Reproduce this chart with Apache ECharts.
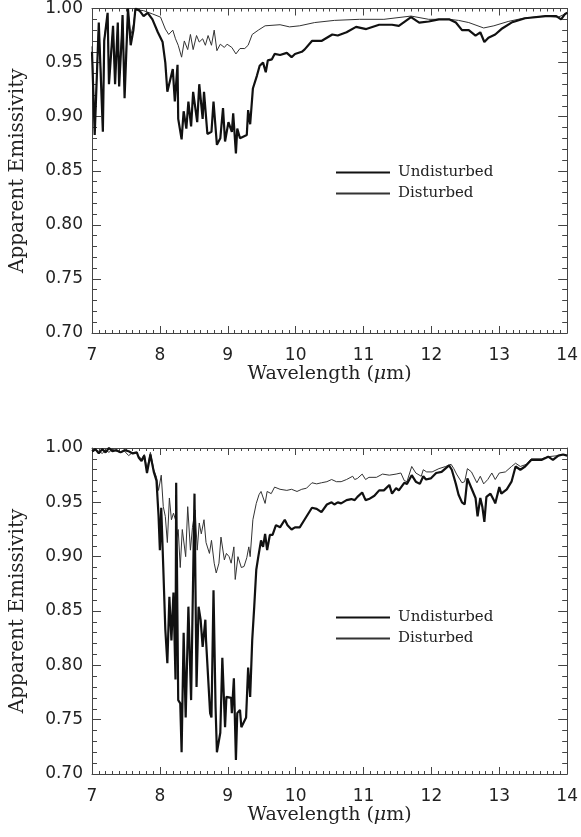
<!DOCTYPE html>
<html>
<head>
<meta charset="utf-8">
<script src="https://cdn.jsdelivr.net/npm/echarts@6/dist/echarts.min.js"></script>
<style>
html,body{margin:0;padding:0;background:#fff;}
#c{width:581px;height:837px;}
</style>
</head>
<body>
<div id="c"></div>
<script>
// ---------- DATA ----------
const xTicks = [7, 8, 9, 10, 11, 12, 13, 14];
const yTicks = [0.70, 0.75, 0.80, 0.85, 0.90, 0.95, 1.00];
const seriesNames = ['Undisturbed', 'Disturbed'];

// Top panel – undisturbed
const topUndW = [7.00,7.04,7.10,7.16,7.18,7.23,7.25,7.31,7.34,7.38,7.40,7.44,7.45,7.48,7.53,7.54,7.57,7.61,7.64,7.70,7.76,7.82,7.89,7.97,8.04,8.08,8.11,8.19,8.22,8.26,8.27,8.32,8.35,8.39,8.42,8.46,8.49,8.55,8.58,8.63,8.65,8.70,8.76,8.79,8.84,8.89,8.93,8.96,9.01,9.06,9.08,9.12,9.14,9.18,9.28,9.30,9.33,9.37,9.43,9.47,9.52,9.56,9.59,9.65,9.69,9.77,9.87,9.94,9.99,10.09,10.13,10.24,10.38,10.54,10.62,10.75,10.89,11.04,11.23,11.42,11.52,11.70,11.82,11.96,12.11,12.26,12.36,12.45,12.55,12.65,12.72,12.78,12.84,12.94,13.03,13.18,13.38,13.68,13.84,13.91,13.97,14.00];
const topUndE = [0.960,0.883,0.987,0.886,0.970,0.996,0.930,0.984,0.930,0.987,0.928,0.976,0.994,0.917,1.000,0.992,0.966,0.980,1.000,0.998,0.993,0.996,0.990,0.978,0.969,0.950,0.923,0.944,0.914,0.948,0.898,0.879,0.905,0.889,0.914,0.891,0.923,0.895,0.930,0.898,0.923,0.884,0.886,0.914,0.874,0.880,0.908,0.877,0.895,0.886,0.903,0.866,0.889,0.880,0.883,0.906,0.893,0.926,0.938,0.947,0.950,0.941,0.952,0.953,0.958,0.957,0.959,0.955,0.958,0.960,0.962,0.970,0.970,0.976,0.975,0.978,0.983,0.981,0.985,0.985,0.984,0.992,0.987,0.988,0.990,0.990,0.987,0.980,0.980,0.975,0.978,0.969,0.973,0.976,0.981,0.987,0.991,0.993,0.993,0.990,0.995,0.996];

// Top panel – disturbed
const topDisW = [7.00,7.04,7.10,7.16,7.18,7.23,7.25,7.31,7.34,7.38,7.40,7.44,7.45,7.48,7.53,7.57,7.61,7.64,7.76,7.89,8.01,8.08,8.13,8.19,8.23,8.27,8.32,8.36,8.41,8.45,8.49,8.54,8.58,8.63,8.67,8.71,8.76,8.80,8.84,8.89,8.95,8.99,9.06,9.12,9.18,9.25,9.30,9.36,9.45,9.55,9.77,9.91,10.06,10.28,10.57,10.94,11.30,11.70,11.96,12.26,12.40,12.55,12.77,12.92,13.13,13.35,13.68,13.87,13.97,14.00];
const topDisE = [0.965,0.890,0.985,0.895,0.972,0.995,0.935,0.982,0.935,0.985,0.932,0.978,0.993,0.925,0.998,0.975,0.985,0.999,0.998,0.995,0.992,0.981,0.976,0.980,0.972,0.966,0.955,0.970,0.962,0.976,0.962,0.975,0.969,0.972,0.966,0.975,0.966,0.980,0.961,0.967,0.964,0.967,0.964,0.958,0.963,0.963,0.966,0.976,0.980,0.984,0.985,0.983,0.984,0.987,0.989,0.990,0.990,0.993,0.990,0.990,0.989,0.987,0.982,0.984,0.988,0.991,0.993,0.992,0.995,0.996];

// Bottom panel – undisturbed
const botUndW = [7.00,7.05,7.10,7.15,7.20,7.25,7.30,7.36,7.42,7.48,7.54,7.60,7.66,7.69,7.73,7.77,7.81,7.86,7.91,7.95,7.98,8.00,8.02,8.05,8.08,8.11,8.14,8.17,8.20,8.23,8.24,8.27,8.30,8.32,8.35,8.38,8.42,8.46,8.51,8.54,8.57,8.60,8.63,8.67,8.68,8.74,8.76,8.79,8.82,8.84,8.89,8.92,8.96,8.98,9.05,9.06,9.09,9.12,9.14,9.18,9.20,9.27,9.30,9.33,9.36,9.39,9.42,9.45,9.49,9.52,9.55,9.58,9.62,9.66,9.71,9.77,9.84,9.88,9.94,9.99,10.06,10.13,10.24,10.31,10.38,10.46,10.53,10.57,10.62,10.67,10.75,10.82,10.87,10.91,10.98,11.03,11.08,11.16,11.23,11.30,11.38,11.42,11.48,11.52,11.60,11.64,11.71,11.77,11.83,11.88,11.92,11.99,12.07,12.15,12.26,12.30,12.36,12.40,12.45,12.49,12.53,12.59,12.65,12.68,12.72,12.75,12.78,12.81,12.87,12.92,12.94,13.00,13.03,13.11,13.18,13.24,13.31,13.38,13.47,13.54,13.62,13.72,13.79,13.87,13.94,14.00];
const botUndE = [0.997,0.999,0.995,0.999,0.996,1.000,0.997,0.998,0.996,0.998,0.997,0.995,0.996,0.991,0.988,0.993,0.977,0.994,0.978,0.970,0.938,0.906,0.945,0.890,0.833,0.802,0.863,0.823,0.867,0.787,0.968,0.768,0.765,0.720,0.830,0.752,0.854,0.768,0.958,0.780,0.854,0.842,0.817,0.842,0.823,0.756,0.752,0.869,0.762,0.720,0.738,0.807,0.743,0.771,0.770,0.756,0.788,0.713,0.756,0.759,0.743,0.752,0.798,0.771,0.823,0.854,0.888,0.900,0.915,0.909,0.921,0.906,0.920,0.920,0.929,0.927,0.934,0.929,0.925,0.927,0.927,0.934,0.945,0.944,0.941,0.948,0.950,0.948,0.950,0.949,0.952,0.953,0.952,0.955,0.959,0.952,0.953,0.956,0.961,0.961,0.966,0.958,0.963,0.961,0.968,0.967,0.975,0.969,0.967,0.974,0.971,0.972,0.977,0.978,0.984,0.980,0.967,0.957,0.950,0.948,0.972,0.963,0.954,0.937,0.954,0.946,0.932,0.955,0.958,0.952,0.949,0.964,0.958,0.962,0.969,0.983,0.980,0.983,0.989,0.989,0.989,0.992,0.989,0.993,0.994,0.993];

// Bottom panel – disturbed
const botDisW = [7.00,7.05,7.10,7.15,7.20,7.25,7.30,7.36,7.42,7.48,7.54,7.60,7.66,7.69,7.73,7.77,7.81,7.86,7.91,7.95,7.98,8.02,8.05,8.08,8.11,8.14,8.17,8.20,8.23,8.24,8.27,8.30,8.33,8.38,8.41,8.45,8.48,8.52,8.55,8.58,8.61,8.65,8.68,8.73,8.76,8.80,8.83,8.87,8.90,8.95,8.98,9.02,9.05,9.09,9.11,9.15,9.20,9.24,9.28,9.31,9.33,9.37,9.42,9.46,9.49,9.55,9.58,9.64,9.69,9.77,9.87,9.94,10.02,10.09,10.16,10.24,10.31,10.38,10.46,10.53,10.60,10.67,10.75,10.84,10.87,10.91,10.98,11.03,11.08,11.19,11.28,11.38,11.48,11.55,11.60,11.64,11.71,11.77,11.85,11.88,11.93,12.01,12.11,12.21,12.29,12.33,12.37,12.45,12.49,12.53,12.59,12.67,12.72,12.77,12.83,12.89,12.94,13.00,13.09,13.18,13.24,13.31,13.40,13.47,13.62,13.72,13.87,13.94,14.00];
const botDisE = [0.996,0.998,0.997,0.995,0.998,0.996,0.999,0.997,0.996,0.997,0.993,0.996,0.995,0.992,0.990,0.994,0.980,0.996,0.980,0.973,0.961,0.975,0.946,0.937,0.913,0.954,0.934,0.940,0.934,0.915,0.925,0.890,0.925,0.900,0.946,0.906,0.927,0.943,0.906,0.931,0.921,0.934,0.913,0.903,0.915,0.894,0.885,0.894,0.918,0.897,0.903,0.900,0.894,0.909,0.879,0.900,0.890,0.891,0.899,0.909,0.900,0.934,0.949,0.957,0.960,0.949,0.960,0.958,0.964,0.962,0.961,0.962,0.960,0.962,0.963,0.968,0.967,0.968,0.969,0.971,0.969,0.969,0.971,0.974,0.971,0.972,0.976,0.971,0.973,0.973,0.976,0.975,0.976,0.977,0.970,0.969,0.983,0.977,0.974,0.980,0.978,0.978,0.981,0.983,0.985,0.981,0.976,0.968,0.969,0.981,0.978,0.968,0.974,0.967,0.971,0.977,0.971,0.977,0.978,0.983,0.986,0.983,0.985,0.990,0.990,0.992,0.993,0.994,0.993];

// ---------- CHART ----------
const zip = (w, e) => w.map((x, i) => [x, e[i]]);
const INK = '#222';
const FRAME = '#444';
const tickFont = 'DejaVu Sans';
const titleFont = 'DejaVu Serif';

const grids = [
  {left: 91, right: 12, top: 6, height: 327},
  {left: 91, right: 12, top: 448, height: 326}
];

function xAxes(gi) {
  const base = {
    gridIndex: gi, type: 'value', min: xTicks[0], max: xTicks[xTicks.length - 1], interval: 1,
    axisLine: {show: true, onZero: false, lineStyle: {color: FRAME, width: 1}},
    axisTick: {show: true, inside: true, length: 7, lineStyle: {color: FRAME, width: 1}},
    minorTick: {show: true, splitNumber: 10, length: 3, lineStyle: {color: FRAME, width: 1}},
    splitLine: {show: false}, minorSplitLine: {show: false}
  };
  return [
    Object.assign({}, base, {
      position: 'bottom',
      axisLabel: {show: true, margin: 14, fontFamily: tickFont, fontSize: 17, color: INK,
        formatter: v => String(v)},
      name: 'Wavelength ({i|μ}m)', nameLocation: 'middle', nameGap: 29,
      nameTextStyle: {fontFamily: titleFont, fontSize: 19, color: INK,
        rich: {i: {fontFamily: titleFont, fontStyle: 'italic', fontSize: 19, color: INK}}}
    }),
    Object.assign({}, base, {position: 'top', axisLabel: {show: false}})
  ];
}
function yAxes(gi) {
  const base = {
    gridIndex: gi, type: 'value', min: yTicks[0], max: yTicks[yTicks.length - 1], interval: 0.05,
    axisLine: {show: true, onZero: false, lineStyle: {color: FRAME, width: 1}},
    axisTick: {show: true, inside: true, length: 9, lineStyle: {color: FRAME, width: 1}},
    minorTick: {show: true, splitNumber: 5, length: 5, lineStyle: {color: FRAME, width: 1}},
    splitLine: {show: false}, minorSplitLine: {show: false}
  };
  return [
    Object.assign({}, base, {
      position: 'left',
      axisLabel: {show: true, margin: 9, fontFamily: tickFont, fontSize: 17, color: INK,
        formatter: v => v.toFixed(2)},
      name: 'Apparent Emissivity', nameLocation: 'middle', nameGap: 64, nameRotate: 90,
      nameTextStyle: {fontFamily: titleFont, fontSize: 20, color: INK}
    }),
    Object.assign({}, base, {position: 'right', axisLabel: {show: false}})
  ];
}

function lineSeries(name, data, xi, yi, width, color, z) {
  return {
    name, type: 'line', data, xAxisIndex: xi, yAxisIndex: yi,
    showSymbol: false, symbol: 'none', smooth: false, z,
    lineStyle: {width, color}, itemStyle: {color},
    animation: false
  };
}

const legendBase = {
  orient: 'vertical', left: 330, itemWidth: 54, itemHeight: 14, itemGap: 6,
  data: seriesNames,
  itemStyle: {opacity: 0},
  textStyle: {fontFamily: titleFont, fontSize: 15, color: INK, padding: [0, 0, 0, 3]},
  selectedMode: false
};

const option = {
  backgroundColor: '#fff',
  animation: false,
  grid: grids,
  xAxis: [...xAxes(0), ...xAxes(1)],
  yAxis: [...yAxes(0), ...yAxes(1)],
  legend: [
    Object.assign({}, legendBase, {top: 160}),
    Object.assign({}, legendBase, {top: 605})
  ],
  series: [
    lineSeries(seriesNames[1], zip(topDisW, topDisE), 0, 0, 1, '#333', 2),
    lineSeries(seriesNames[0], zip(topUndW, topUndE), 0, 0, 2.2, '#111', 3),
    lineSeries(seriesNames[1], zip(botDisW, botDisE), 2, 2, 1, '#333', 2),
    lineSeries(seriesNames[0], zip(botUndW, botUndE), 2, 2, 2.2, '#111', 3)
  ]
};

const chart = echarts.init(document.getElementById('c'), null, {renderer: 'canvas'});
chart.setOption(option);
</script>
</body>
</html>
